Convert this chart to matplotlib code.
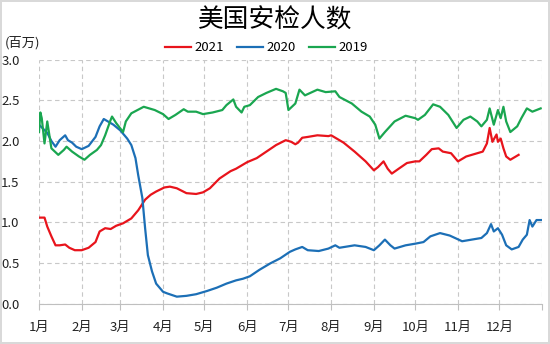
import numpy as np
import matplotlib.pyplot as plt

plt.rcParams['font.family'] = ['Noto Sans CJK SC', 'DejaVu Sans']

# 数据 (单位: 百万, x = 一年中的第几天)
day_2021 = [0, 4, 6, 9, 12, 15, 19, 22, 26, 31, 36, 41, 44, 48, 52, 56, 61, 67, 72, 77,
            81, 85, 91, 95, 100, 107, 114, 119, 124, 131, 139, 143, 151, 158, 165, 172,
            179, 183, 186, 188, 191, 195, 202, 210, 212, 221, 229, 237, 243, 246, 250,
            253, 256, 261, 267, 273, 276, 281, 285, 290, 293, 299, 304, 310, 318, 322,
            325, 327, 329, 332, 333, 335, 337, 339, 342, 344, 348]
val_2021 = [1.06, 1.06, 0.95, 0.83, 0.72, 0.72, 0.73, 0.69, 0.66, 0.66, 0.69, 0.76, 0.89,
            0.93, 0.92, 0.96, 0.99, 1.05, 1.15, 1.28, 1.34, 1.38, 1.43, 1.44, 1.42, 1.36,
            1.35, 1.37, 1.42, 1.54, 1.63, 1.66, 1.74, 1.79, 1.87, 1.95, 2.01, 1.99, 1.96,
            1.98, 2.04, 2.05, 2.07, 2.06, 2.07, 1.98, 1.87, 1.75, 1.64, 1.68, 1.75, 1.66,
            1.60, 1.66, 1.73, 1.75, 1.75, 1.83, 1.90, 1.91, 1.87, 1.85, 1.75, 1.81, 1.85,
            1.87, 1.97, 2.16, 1.99, 2.08, 1.99, 2.03, 1.91, 1.81, 1.77, 1.79, 1.83]

day_2020 = [0, 3, 6, 9, 12, 15, 19, 21, 24, 27, 31, 36, 41, 44, 47, 50, 54, 59, 64, 67,
            70, 72, 75, 77, 79, 82, 85, 90, 93, 100, 107, 114, 122, 129, 136, 143, 148,
            153, 160, 168, 175, 182, 186, 191, 195, 203, 210, 215, 218, 229, 237, 243,
            247, 251, 255, 258, 266, 273, 279, 284, 291, 298, 307, 314, 321, 325, 328,
            330, 333, 336, 339, 343, 348, 351, 354, 356, 358, 361, 365]
val_2020 = [2.20, 2.15, 2.10, 2.00, 1.93, 2.01, 2.07, 2.01, 1.98, 1.93, 1.90, 1.94, 2.05,
            2.18, 2.27, 2.24, 2.20, 2.13, 2.03, 1.95, 1.79, 1.58, 1.30, 0.93, 0.60, 0.40,
            0.25, 0.15, 0.13, 0.09, 0.10, 0.12, 0.16, 0.20, 0.25, 0.29, 0.31, 0.34, 0.42,
            0.50, 0.56, 0.64, 0.67, 0.70, 0.66, 0.65, 0.68, 0.72, 0.69, 0.72, 0.70, 0.66,
            0.72, 0.79, 0.72, 0.68, 0.72, 0.74, 0.76, 0.83, 0.87, 0.84, 0.77, 0.79, 0.81,
            0.87, 0.98, 0.89, 0.93, 0.85, 0.72, 0.67, 0.70, 0.79, 0.85, 1.03, 0.95, 1.03,
            1.03]

day_2019 = [0, 1, 2, 4, 6, 9, 14, 18, 20, 24, 29, 33, 37, 42, 45, 48, 52, 53, 56, 61, 63,
            67, 76, 84, 90, 94, 99, 105, 108, 114, 119, 126, 133, 136, 141, 143, 147, 149,
            153, 159, 165, 172, 177, 179, 181, 186, 189, 193, 202, 208, 215, 218, 227,
            234, 240, 244, 247, 251, 258, 266, 273, 275, 280, 286, 291, 297, 303, 308,
            313, 318, 321, 325, 327, 330, 333, 335, 337, 339, 342, 347, 350, 354, 358, 364]
val_2019 = [2.11, 2.35, 2.28, 1.97, 2.24, 1.91, 1.83, 1.89, 1.93, 1.87, 1.81, 1.77, 1.83,
            1.89, 1.95, 2.07, 2.26, 2.30, 2.22, 2.11, 2.24, 2.34, 2.42, 2.38, 2.33, 2.27,
            2.32, 2.39, 2.36, 2.36, 2.33, 2.35, 2.38, 2.44, 2.51, 2.42, 2.35, 2.42, 2.44,
            2.54, 2.59, 2.64, 2.61, 2.59, 2.38, 2.46, 2.63, 2.56, 2.63, 2.60, 2.61, 2.54,
            2.46, 2.36, 2.30, 2.20, 2.03, 2.11, 2.24, 2.31, 2.28, 2.26, 2.32, 2.45, 2.42,
            2.32, 2.16, 2.26, 2.30, 2.24, 2.18, 2.26, 2.40, 2.20, 2.38, 2.28, 2.42, 2.24,
            2.11, 2.18, 2.28, 2.40, 2.36, 2.40]

month_start = [0, 31, 59, 90, 120, 151, 181, 212, 243, 273, 304, 334, 365]
month_labels = ['1月', '2月', '3月', '4月', '5月', '6月', '7月', '8月', '9月',
                '10月', '11月', '12月', '']

fig = plt.figure(figsize=(5.5, 3.44), dpi=100, linewidth=1.5, edgecolor='#d9d9d9')
ax = fig.add_axes([0.0709, 0.1163, 0.9146, 0.7107])

ax.plot(day_2021, val_2021, color='#e8141c', lw=1.6, label='2021')
ax.plot(day_2020, val_2020, color='#1c6fb6', lw=1.6, label='2020')
ax.plot(day_2019, val_2019, color='#1aa650', lw=1.6, label='2019')

ax.set_xlim(0, 365)
ax.set_ylim(0, 3.0)
ax.set_yticks(np.arange(0, 3.01, 0.5))
ax.set_yticklabels([f'{v:.1f}' for v in np.arange(0, 3.01, 0.5)])
ax.set_xticks(month_start)
ax.set_xticklabels(month_labels)

ax.grid(True, color='#c8c8c8', linestyle=(0, (4, 3)), lw=0.8)
for s in ['top', 'left', 'right']:
    ax.spines[s].set_visible(False)
ax.spines['bottom'].set_color('#bfbfbf')
ax.tick_params(axis='y', length=0, pad=14, labelsize=9.5, labelcolor='#222222')
ax.tick_params(axis='x', length=4, color='#bfbfbf', pad=8, labelsize=9.5,
               labelcolor='#222222')

fig.text(0.5, 0.94, '美国安检人数', ha='center', va='center', fontsize=18.5)
fig.text(0.008, 0.875, '(百万)', ha='left', va='center', fontsize=9.5, color='#222222')
ax.legend(loc='lower center', bbox_to_anchor=(0.452, 0.995), ncol=3, frameon=False,
          fontsize=9.5, handlelength=2.0, handletextpad=0.25, columnspacing=1.0,
          borderaxespad=0.1)

plt.savefig('out.png', dpi=100)
